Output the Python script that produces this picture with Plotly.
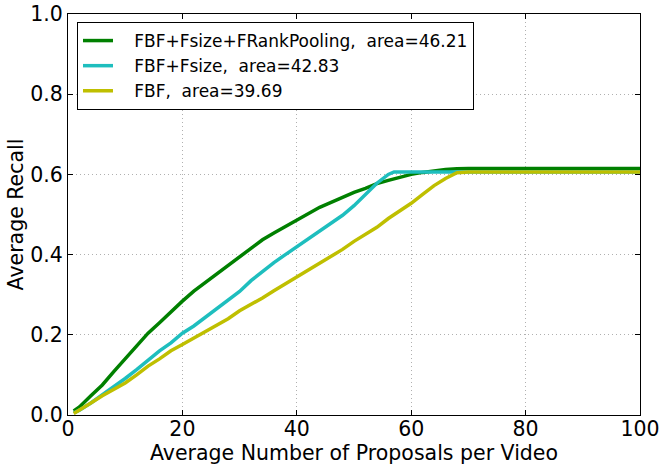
import plotly.graph_objects as go

# Series data
x_green = [1, 2, 4, 6, 8, 10, 12, 14, 16, 18, 20, 22, 24, 26, 28, 30, 32, 34, 36, 38,
           40, 42, 44, 46, 48, 50, 52, 54, 56, 58, 60, 62, 64, 66, 68, 70, 100]
y_green = [0.010, 0.020, 0.048, 0.075, 0.108, 0.141, 0.172, 0.204, 0.230, 0.258,
           0.284, 0.309, 0.330, 0.353, 0.374, 0.394, 0.416, 0.437, 0.454, 0.470,
           0.487, 0.502, 0.518, 0.530, 0.543, 0.555, 0.565, 0.577, 0.585, 0.593,
           0.600, 0.605, 0.609, 0.612, 0.614, 0.615, 0.615]

x_cyan = [1, 2, 4, 6, 8, 10, 12, 14, 16, 18, 20, 22, 24, 26, 28, 30, 32, 34, 36, 38,
          40, 42, 44, 46, 48, 50, 52, 54, 56, 57, 100]
y_cyan = [0.005, 0.012, 0.030, 0.050, 0.070, 0.091, 0.113, 0.137, 0.160, 0.180,
          0.204, 0.222, 0.243, 0.265, 0.285, 0.308, 0.335, 0.358, 0.380, 0.400,
          0.420, 0.438, 0.460, 0.480, 0.498, 0.522, 0.550, 0.578, 0.600, 0.606, 0.606]

x_yellow = [1, 2, 4, 6, 8, 10, 12, 14, 16, 18, 20, 22, 24, 26, 28, 30, 32, 34, 36, 38,
            40, 42, 44, 46, 48, 50, 52, 54, 56, 58, 60, 62, 64, 66, 68, 70, 100]
y_yellow = [0.004, 0.012, 0.030, 0.048, 0.063, 0.080, 0.100, 0.122, 0.140, 0.160,
            0.176, 0.192, 0.207, 0.222, 0.240, 0.260, 0.275, 0.292, 0.310, 0.327,
            0.345, 0.360, 0.377, 0.395, 0.413, 0.433, 0.450, 0.468, 0.490, 0.508,
            0.528, 0.550, 0.572, 0.590, 0.604, 0.606, 0.606]

names = ["FBF+Fsize+FRankPooling,  area=46.21",
         "FBF+Fsize,  area=42.83",
         "FBF,  area=39.69"]
colors = ["rgb(0,128,0)", "rgb(30,190,190)", "rgb(191,191,0)"]

x_ticks = [0, 20, 40, 60, 80, 100]
y_ticks = [0.0, 0.2, 0.4, 0.6, 0.8, 1.0]
y_tick_text = ["0.0", "0.2", "0.4", "0.6", "0.8", "1.0"]

fig = go.Figure()
for xs, ys, name, col in [(x_green, y_green, names[0], colors[0]),
                          (x_cyan, y_cyan, names[1], colors[1]),
                          (x_yellow, y_yellow, names[2], colors[2])]:
    fig.add_trace(go.Scatter(x=xs, y=ys, mode="lines",
                             name="&nbsp;&nbsp;&nbsp;" + name,
                             line=dict(color=col, width=3.5)))

font = "DejaVu Sans, sans-serif"
fig.update_layout(
    width=661, height=468,
    margin=dict(l=68, r=21, t=14, b=53, autoexpand=False),
    paper_bgcolor="white", plot_bgcolor="white",
    font=dict(family=font, color="black", size=21),
    legend=dict(x=0.0157, y=0.980, xanchor="left", yanchor="top",
                bgcolor="white", bordercolor="black", borderwidth=1,
                font=dict(size=17, family=font, color="black"),
                tracegroupgap=0),
)
axis_common = dict(showline=True, linecolor="black", linewidth=1, mirror="ticks",
                   ticks="inside", ticklen=5, tickcolor="black",
                   showgrid=True, gridcolor="#b0b0b0", griddash="1px,3px", gridwidth=1,
                   zeroline=False, tickfont=dict(size=20.5, family=font),
                   ticklabeloverflow="allow", automargin=False)
fig.update_xaxes(range=[0, 100], tickvals=x_ticks, ticklabelstandoff=-5,
                 title=dict(text="Average Number of Proposals per Video",
                            font=dict(size=20.5), standoff=2),
                 **axis_common)
fig.update_yaxes(range=[0, 1], tickvals=y_ticks, ticktext=y_tick_text,
                 title=dict(text="Average Recall", font=dict(size=20.5), standoff=1),
                 **axis_common)

# remove the default 8px page margin so the figure fills the window exactly
fig.write_html("out.html",
               config={"displayModeBar": False},
               post_script="document.body.style.margin='0px';document.body.style.overflow='hidden';")
